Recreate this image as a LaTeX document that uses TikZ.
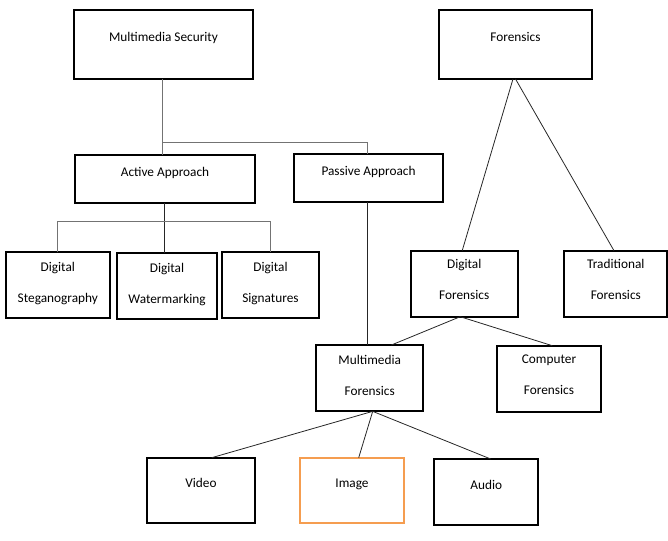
\documentclass[tikz,border=0pt]{standalone}
\usepackage{fontspec}
\setmainfont{Carlito}
\definecolor{imgorange}{RGB}{245,157,80}
\tikzset{
  box/.style={draw, line width=2pt, inner sep=0pt, outer sep=0pt},
  lbl/.style={anchor=base, align=center, inner sep=0pt, font=\fontsize{13.3}{31}\selectfont},
  link/.style={line width=0.8pt, black!85},
  graylink/.style={line width=0.8pt, black!55}
}

\begin{document}
\begin{tikzpicture}[x=1pt, y=-1pt]
            \useasboundingbox (0,0) rectangle (668,540);
            % top row
            \node[box, minimum width=179.6pt, minimum height=69.3pt, label={[lbl, yshift=-32pt]north:Multimedia Security}] (mmsec) at (163.5,44.3) {};
            \node[box, minimum width=152.4pt, minimum height=69.3pt, label={[lbl, yshift=-32pt]north:Forensics}] (foren) at (515.5,44.3) {};

            % approaches
            \node[box, minimum width=180pt, minimum height=48pt, label={[lbl, yshift=-21pt]north:Active Approach}] (active) at (165,179) {};
            \node[box, minimum width=149pt, minimum height=48pt, label={[lbl, yshift=-21pt]north:Passive Approach}] (passive) at (368.5,178.3) {};

            % active methods (base = last line)
            \node[box, minimum width=104.3pt, minimum height=66pt, label={[lbl, yshift=-50pt]north:Digital\\Steganography}] (stego) at (57.8,285.3) {};
            \node[box, minimum width=100.6pt, minimum height=66pt, label={[lbl, yshift=-50pt]north:Digital\\Watermarking}] (water) at (167,286.3) {};
            \node[box, minimum width=97pt, minimum height=66pt, label={[lbl, yshift=-50pt]north:Digital\\Signatures}] (sign) at (270.5,285.3) {};

            % forensics branches
            \node[box, minimum width=107pt, minimum height=66pt, label={[lbl, yshift=-49pt]north:Digital\\Forensics}] (digfor) at (464.2,283.7) {};
            \node[box, minimum width=103pt, minimum height=66pt, label={[lbl, yshift=-49pt]north:Traditional\\Forensics}] (tradfor) at (615.8,283.7) {};
            \node[box, minimum width=107.3pt, minimum height=66.3pt, label={[lbl, yshift=-50pt]north:Multimedia\\Forensics}] (mmfor) at (369.7,378.2) {};
            \node[box, minimum width=104pt, minimum height=66pt, label={[lbl, yshift=-49pt]north:Computer\\Forensics}] (compfor) at (549,378.7) {};

            % media
            \node[box, minimum width=107.4pt, minimum height=65.6pt, label={[lbl, yshift=-30pt]north:Video}] (video) at (201,490.5) {};
            \node[box, draw=imgorange, minimum width=104pt, minimum height=65.6pt, label={[lbl, yshift=-30pt]north:Image}] (image) at (352,490.5) {};
            \node[box, minimum width=104.3pt, minimum height=66pt, label={[lbl, yshift=-30pt]north:Audio}] (audio) at (486.2,492) {};

            % connectors
            \draw[graylink] ([xshift=-1.5pt]mmsec.south) -- ([xshift=-1.5pt]mmsec.south |- active.north);
            \draw[graylink] ([xshift=-1.5pt,yshift=12.3pt]mmsec.south |- active.north) -| ([xshift=-1.2pt]passive.north);
            \draw[link] ([xshift=-0.7pt]active.south) -- ([xshift=-0.7pt]active.south |- water.north);
            \draw[graylink] (stego.north) -- ([yshift=30.6pt]stego.north) -| (sign.north);
            \draw[link] ([xshift=-1.2pt]passive.south) -- ([xshift=-1.2pt]passive.south |- mmfor.north);
            \draw[link] ([xshift=-2.5pt]foren.south) -- ([xshift=-2pt]digfor.north);
            \draw[link] (foren.south) -- ([xshift=-1.8pt]tradfor.north);
            \draw[link] ([xshift=-4pt]digfor.south) -- ([xshift=21.6pt]mmfor.north);
            \draw[link] ([xshift=-4pt]digfor.south) -- ([xshift=3.3pt]compfor.north);
            \draw[link] ([xshift=3pt]mmfor.south) -- ([xshift=10.7pt]video.north);
            \draw[link] ([xshift=3pt]mmfor.south) -- ([xshift=6.7pt]image.north);
            \draw[link] ([xshift=3pt]mmfor.south) -- ([xshift=4.5pt]audio.north);
\end{tikzpicture}
\end{document}
